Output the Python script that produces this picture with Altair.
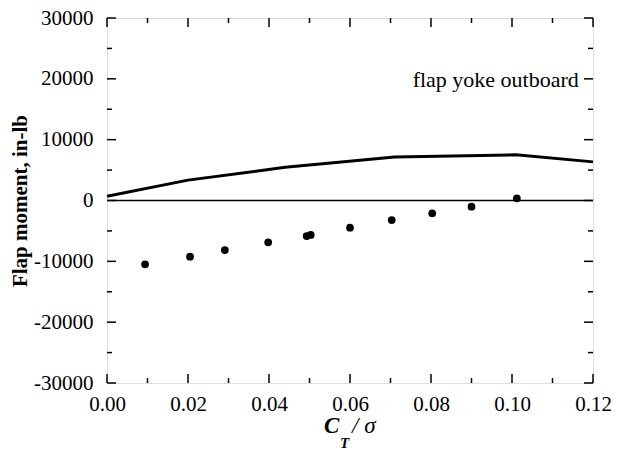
import altair as alt
import pandas as pd

# Data
ct_line = [0.0, 0.02, 0.044, 0.071, 0.101, 0.12]
m_line = [700, 3350, 5450, 7150, 7500, 6350]

ct_pts = [0.0094, 0.0205, 0.0291, 0.0398, 0.0493, 0.0503, 0.0600, 0.0703, 0.0803, 0.0900, 0.1012]
m_pts = [-10490, -9240, -8140, -6880, -5840, -5670, -4470, -3210, -2110, -1020, 360]

x_major = [0.0, 0.02, 0.04, 0.06, 0.08, 0.10, 0.12]
x_minor = [0.01, 0.03, 0.05, 0.07, 0.09, 0.11]
y_major = [-30000, -20000, -10000, 0, 10000, 20000, 30000]
y_minor = [-25000, -15000, -5000, 5000, 15000, 25000]

annotation = "flap yoke outboard"
ann_x = [0.1165]
ann_y = [20000]

W, H = 486, 365
FONT = "Liberation Serif"
MAJ, MIN = 9, 5

xs = alt.Scale(domain=[0, 0.12], nice=False, zero=False)
ys = alt.Scale(domain=[-30000, 30000], nice=False)

line_df = pd.DataFrame({"ct": ct_line, "m": m_line})
pts_df = pd.DataFrame({"ct": ct_pts, "m": m_pts})

x_axis = alt.Axis(values=x_major, format=".2f", labelFlush=False,
                  ticks=False, domain=False, grid=False, labelPadding=10,
                  labelFont=FONT, labelFontSize=21, labelColor="black",
                  title=None)
y_axis = alt.Axis(values=y_major, labelFlush=False,
                  labelExpr="datum.value < 0 ? '-' + format(-datum.value, 'd') : format(datum.value, 'd')",
                  ticks=False, domain=False, grid=False, labelPadding=14,
                  labelFont=FONT, labelFontSize=21, labelColor="black",
                  title="Flap moment, in-lb", titleFont=FONT, titleFontSize=21,
                  titleFontWeight="bold", titleColor="black", titlePadding=3)

line = alt.Chart(line_df).mark_line(color="black", strokeWidth=3).encode(
    x=alt.X("ct:Q", scale=xs, axis=x_axis),
    y=alt.Y("m:Q", scale=ys, axis=y_axis),
)

pts = alt.Chart(pts_df).mark_circle(color="black", opacity=1, size=60).encode(
    x=alt.X("ct:Q", scale=xs),
    y=alt.Y("m:Q", scale=ys),
)

zero = alt.Chart(pd.DataFrame({"z": [0]})).mark_rule(color="black", strokeWidth=1.5).encode(
    y=alt.Y("z:Q", scale=ys),
)


def xticks(vals, length):
    df = pd.DataFrame({"v": vals})
    b = alt.Chart(df).mark_rule(color="black", strokeWidth=1.5).encode(
        x=alt.X("v:Q", scale=xs), y=alt.value(H), y2=alt.value(H - length))
    t = alt.Chart(df).mark_rule(color="black", strokeWidth=1.5).encode(
        x=alt.X("v:Q", scale=xs), y=alt.value(0), y2=alt.value(length))
    return [b, t]


def yticks(vals, length):
    df = pd.DataFrame({"v": vals})
    l = alt.Chart(df).mark_rule(color="black", strokeWidth=1.5).encode(
        y=alt.Y("v:Q", scale=ys), x=alt.value(0), x2=alt.value(length))
    r = alt.Chart(df).mark_rule(color="black", strokeWidth=1.5).encode(
        y=alt.Y("v:Q", scale=ys), x=alt.value(W), x2=alt.value(W - length))
    return [l, r]


ticks = xticks(x_major, MAJ) + xticks(x_minor, MIN) + yticks(y_major, MAJ) + yticks(y_minor, MIN)

ann = alt.Chart(pd.DataFrame({"x": ann_x, "y": ann_y, "t": [annotation]})).mark_text(
    font=FONT, fontSize=22, align="right", baseline="middle", color="black", dy=1).encode(
    x=alt.X("x:Q", scale=xs), y=alt.Y("y:Q", scale=ys), text="t:N")

one = pd.DataFrame({"a": [0]})
t_c = alt.Chart(one).mark_text(font=FONT, fontSize=23, fontStyle="italic", fontWeight="bold",
                               align="left", baseline="alphabetic", color="black").encode(
    x=alt.value(217), y=alt.value(415), text=alt.value("C"))
t_t = alt.Chart(one).mark_text(font=FONT, fontSize=15, fontStyle="italic", fontWeight="bold",
                               align="left", baseline="alphabetic", color="black").encode(
    x=alt.value(233), y=alt.value(430), text=alt.value("T"))
t_s = alt.Chart(one).mark_text(font=FONT, fontSize=23, fontStyle="italic",
                               align="left", baseline="alphabetic", color="black").encode(
    x=alt.value(245), y=alt.value(415), text=alt.value("/ σ"))

chart = alt.layer(zero, line, pts, *ticks, ann, t_c, t_t, t_s).properties(
    width=W, height=H,
    autosize=alt.AutoSizeParams(type="none"),
    padding={"left": 107, "top": 18, "right": 31, "bottom": 67},
).configure_view(stroke="black", strokeWidth=2).configure(background="white")

chart.save("out.html", embed_options={"renderer": "svg", "actions": False})
